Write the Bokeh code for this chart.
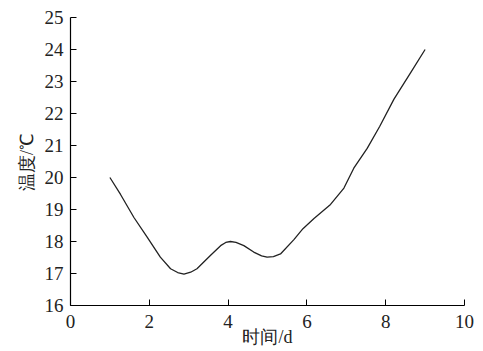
from bokeh.plotting import figure
from bokeh.embed import file_html
from bokeh.resources import INLINE
from bokeh.models import FixedTicker

# data
days = [1.0, 1.27, 1.61, 1.95, 2.28, 2.54, 2.72, 2.88, 3.05, 3.21, 3.55, 3.81, 3.94, 4.06, 4.2, 4.40, 4.65, 4.85, 4.99, 5.15, 5.33, 5.67, 5.9, 6.18, 6.6, 6.94, 7.19, 7.53, 7.85, 8.21, 8.63, 9.0]
temps = [20.0, 19.47, 18.75, 18.13, 17.51, 17.15, 17.03, 16.98, 17.04, 17.15, 17.56, 17.87, 17.97, 18.0, 17.97, 17.87, 17.67, 17.55, 17.51, 17.53, 17.61, 18.06, 18.4, 18.72, 19.16, 19.67, 20.29, 20.91, 21.6, 22.45, 23.27, 24.0]
x_ticks = [0, 2, 4, 6, 8, 10]
y_ticks = [16, 17, 18, 19, 20, 21, 22, 23, 24, 25]

SERIF = "Liberation Serif"

p = figure(width=475, height=349, output_backend="svg", toolbar_location=None,
           x_range=(0, 10), y_range=(16, 25),
           min_border_left=70, min_border_right=11, min_border_top=17, min_border_bottom=40)
p.outline_line_color = None
p.grid.grid_line_color = None
p.background_fill_color = "white"

p.line(days, temps, line_color="#222222", line_width=1.3, line_join="round")

for ax in (p.xaxis[0], p.yaxis[0]):
    ax.axis_line_color = "black"
    ax.axis_line_width = 1.2
    ax.major_tick_in = 6
    ax.major_tick_out = 0
    ax.major_tick_line_color = "black"
    ax.minor_tick_line_color = None
    ax.major_label_text_font = SERIF
    ax.major_label_text_font_size = "19px"
    ax.major_label_text_color = "#222222"
    ax.axis_label_text_font = SERIF
    ax.axis_label_text_font_style = "normal"
    ax.axis_label_text_font_size = "18px"
    ax.axis_label_text_color = "#222222"

p.xaxis.ticker = FixedTicker(ticks=x_ticks)
p.yaxis.ticker = FixedTicker(ticks=y_ticks)
p.xaxis.axis_label = "时间/d"
p.yaxis.axis_label = "温度/℃"
p.xaxis.major_label_standoff = 9
p.yaxis.major_label_standoff = 7
p.xaxis.axis_label_standoff = -4
p.yaxis.axis_label_standoff = 5

open("out.html", "w").write(file_html(p, INLINE))
